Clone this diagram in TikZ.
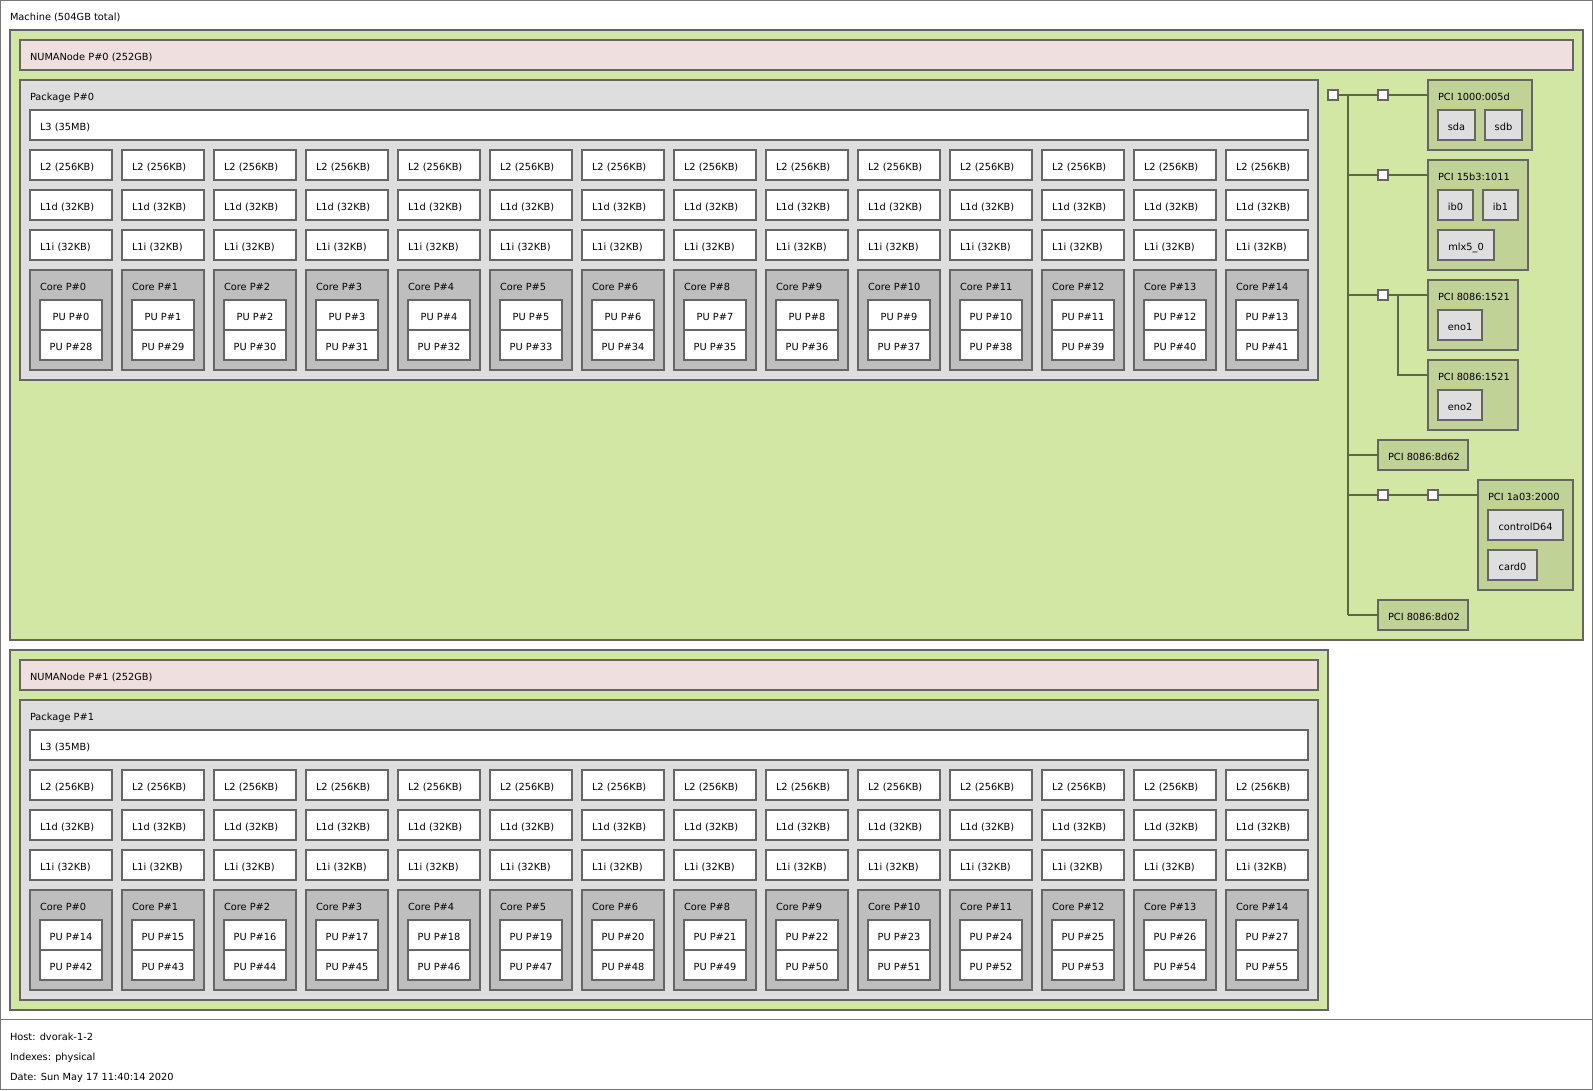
\documentclass[tikz,border=0pt]{standalone}
\usepackage{fontspec}
\setmainfont{DejaVu Sans}
\usetikzlibrary{calc}
\definecolor{bordc}{HTML}{656565}
\definecolor{framec}{HTML}{777777}
\definecolor{linec}{HTML}{5C6847}
\definecolor{groupc}{HTML}{D2E7A4}
\definecolor{numac}{HTML}{EFDFDE}
\definecolor{pkgc}{HTML}{DEDEDE}
\definecolor{corec}{HTML}{BEBEBE}
\definecolor{pcic}{HTML}{C0D295}
\definecolor{osdc}{HTML}{DEDEDE}
\newcommand\mybox[6]{%
  \pgfmathsetmacro\bw{(#4)-(#2)}\pgfmathsetmacro\bh{(#5)-(#3)}%
  \node[box, fill=#6, minimum width=\bw pt, minimum height=\bh pt] (#1) at ({#2},{#3}) {};}
\newcommand\lbl[4]{\node[txt, anchor=base west] (#1) at ({(#2)+10},{(#3)+20}) {#4};}
\newcommand\clbl[5]{\node[txt, anchor=base] (#1) at ({((#2)+(#4))/2},{(#3)+20}) {#5};}
\begin{document}
\begin{tikzpicture}[x=1pt,y=-1pt,
  font=\fontsize{9.8}{12}\selectfont,
  box/.style={draw=bordc, line width=1.3pt, rectangle, inner sep=0pt, outer sep=0pt, anchor=north west},
  framebox/.style={draw=framec, line width=1pt, rectangle, inner sep=0pt, outer sep=0pt, anchor=north west},
  txt/.style={inner sep=0pt, outer sep=0pt, text=black},
  conn/.style={draw=linec, line width=1.5pt}]
\useasboundingbox (0,0) rectangle (1593,1090);
% machine frame and legend
\node[framebox, fill=white, minimum width=1592pt, minimum height=1019pt] (machine) at (0.5,0.5) {};
\node[framebox, fill=white, minimum width=1592pt, minimum height=70pt] (legend) at (0.5,1019.5) {};
\lbl{machinel}{0}{0}{Machine (504GB total)}
\node[txt, anchor=base west] (host) at (10,1040) {Host: dvorak-1-2};
\node[txt, anchor=base west] (idx) at (10,1060) {Indexes: physical};
\node[txt, anchor=base west] (date) at (10,1080) {Date: Sun May 17 11:40:14 2020};
% groups and NUMA nodes
\mybox{grp0}{10}{30}{1583}{640}{groupc}
\mybox{grp1}{10}{650}{1328}{1010}{groupc}
\mybox{numa0}{20}{40}{1573}{70}{numac}
\lbl{numa0l}{20}{40}{NUMANode P\#0 (252GB)}
\mybox{numa1}{20}{660}{1318}{690}{numac}
\lbl{numa1l}{20}{660}{NUMANode P\#1 (252GB)}
% packages
\foreach \p in {0,1}{
  \pgfmathtruncatemacro\dy{620*\p}
  \mybox{pkg\p}{20}{80+\dy}{1318}{380+\dy}{pkgc}
  \lbl{pkg\p l}{20}{80+\dy}{Package P\#\p}
  \mybox{L3-\p}{30}{110+\dy}{1308}{140+\dy}{white}
  \lbl{L3-\p l}{30}{110+\dy}{L3 (35MB)}
  \foreach \cn [count=\k from 0] in {0,1,2,3,4,5,6,8,9,10,11,12,13,14}{
    \pgfmathtruncatemacro\xa{30+92*\k}
    \pgfmathtruncatemacro\xb{112+92*\k}
    \pgfmathtruncatemacro\xc{40+92*\k}
    \pgfmathtruncatemacro\xd{102+92*\k}
    \pgfmathtruncatemacro\pa{\k+14*\p}
    \pgfmathtruncatemacro\pb{28+\k+14*\p}
    \mybox{L2-\p-\k}{\xa}{150+\dy}{\xb}{180+\dy}{white}
    \lbl{L2-\p-\k l}{\xa}{150+\dy}{L2 (256KB)}
    \mybox{L1d-\p-\k}{\xa}{190+\dy}{\xb}{220+\dy}{white}
    \lbl{L1d-\p-\k l}{\xa}{190+\dy}{L1d (32KB)}
    \mybox{L1i-\p-\k}{\xa}{230+\dy}{\xb}{260+\dy}{white}
    \lbl{L1i-\p-\k l}{\xa}{230+\dy}{L1i (32KB)}
    \mybox{core-\p-\k}{\xa}{270+\dy}{\xb}{370+\dy}{corec}
    \lbl{core-\p-\k l}{\xa}{270+\dy}{Core P\#\cn}
    \mybox{pua-\p-\k}{\xc}{300+\dy}{\xd}{330+\dy}{white}
    \clbl{pua-\p-\k l}{\xc}{300+\dy}{\xd}{PU P\#\pa}
    \mybox{pub-\p-\k}{\xc}{330+\dy}{\xd}{360+\dy}{white}
    \clbl{pub-\p-\k l}{\xc}{330+\dy}{\xd}{PU P\#\pb}
  }
}
% PCI tree
\mybox{hb}{1328}{90}{1338}{100}{white}
\mybox{br1}{1378}{90}{1388}{100}{white}
\mybox{br2}{1378}{170}{1388}{180}{white}
\mybox{br3}{1378}{290}{1388}{300}{white}
\mybox{br4}{1378}{490}{1388}{500}{white}
\mybox{br5}{1428}{490}{1438}{500}{white}
\mybox{pci1}{1428}{80}{1532}{150}{pcic}
\lbl{pci1l}{1428}{80}{PCI 1000:005d}
\mybox{sda}{1438}{110}{1475}{140}{osdc}
\clbl{sdal}{1438}{110}{1475}{sda}
\mybox{sdb}{1485}{110}{1522}{140}{osdc}
\clbl{sdbl}{1485}{110}{1522}{sdb}
\mybox{pci2}{1428}{160}{1528}{270}{pcic}
\lbl{pci2l}{1428}{160}{PCI 15b3:1011}
\mybox{ib0}{1438}{190}{1473}{220}{osdc}
\clbl{ib0l}{1438}{190}{1473}{ib0}
\mybox{ib1}{1483}{190}{1518}{220}{osdc}
\clbl{ib1l}{1483}{190}{1518}{ib1}
\mybox{mlx}{1438}{230}{1494}{260}{osdc}
\clbl{mlxl}{1438}{230}{1494}{mlx5\_0}
\mybox{pci3}{1428}{280}{1518}{350}{pcic}
\lbl{pci3l}{1428}{280}{PCI 8086:1521}
\mybox{eno1}{1438}{310}{1482}{340}{osdc}
\clbl{eno1l}{1438}{310}{1482}{eno1}
\mybox{pci4}{1428}{360}{1518}{430}{pcic}
\lbl{pci4l}{1428}{360}{PCI 8086:1521}
\mybox{eno2}{1438}{390}{1482}{420}{osdc}
\clbl{eno2l}{1438}{390}{1482}{eno2}
\mybox{pci5}{1378}{440}{1468}{470}{pcic}
\lbl{pci5l}{1378}{440}{PCI 8086:8d62}
\mybox{pci6}{1478}{480}{1573}{590}{pcic}
\lbl{pci6l}{1478}{480}{PCI 1a03:2000}
\mybox{ctl}{1488}{510}{1563}{540}{osdc}
\clbl{ctll}{1488}{510}{1563}{controlD64}
\mybox{card}{1488}{550}{1537}{580}{osdc}
\clbl{cardl}{1488}{550}{1537}{card0}
\mybox{pci7}{1378}{600}{1468}{630}{pcic}
\lbl{pci7l}{1378}{600}{PCI 8086:8d02}
% attachment points
\coordinate (busT) at (1348,95);
\coordinate (busB) at (1348,615);
\coordinate (sub) at (1398,295);
\coordinate (sub4) at (1398,375);
\coordinate (pci1in) at (1428,95);
\coordinate (pci2in) at (1428,175);
\coordinate (pci3in) at (1428,295);
\coordinate (pci4in) at (1428,375);
\coordinate (pci5in) at (1378,455);
\coordinate (pci6in) at (1478,495);
\coordinate (pci7in) at (1378,615);
\draw[conn] (busT) -- (busB);
\draw[conn] (hb.east) -- (br1.west);
\draw[conn] (br1.east) -- (pci1in);
\draw[conn] (br2 -| busT) -- (br2.west);
\draw[conn] (br2.east) -- (pci2in);
\draw[conn] (br3 -| busT) -- (br3.west);
\draw[conn] (br3.east) -- (pci3in);
\draw[conn] (sub) -- (sub4) -- (pci4in);
\draw[conn] (pci5in -| busT) -- (pci5in);
\draw[conn] (br4 -| busT) -- (br4.west);
\draw[conn] (br4.east) -- (br5.west);
\draw[conn] (br5.east) -- (pci6in);
\draw[conn] (busB) -- (pci7in);
\end{tikzpicture}
\end{document}
